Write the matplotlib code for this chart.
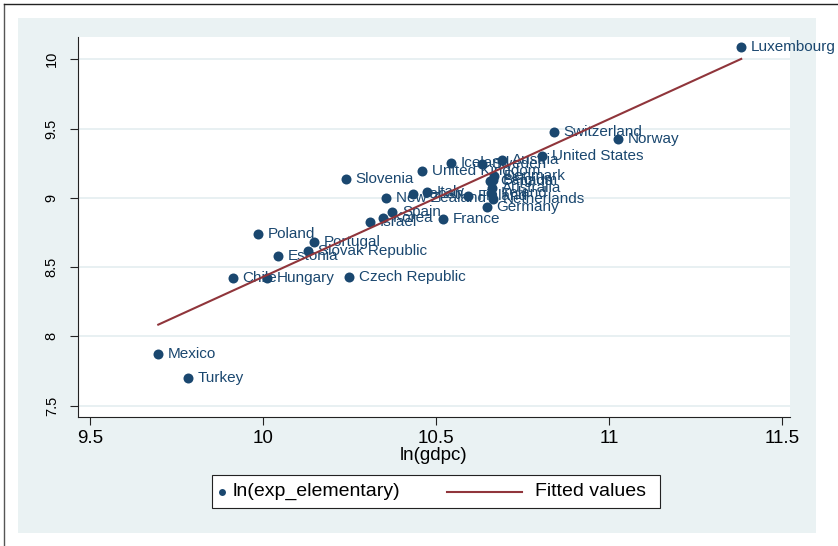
import numpy as np
import matplotlib.pyplot as plt
from matplotlib.lines import Line2D
from matplotlib.patches import Rectangle

plt.rcParams['font.family'] = ['Liberation Sans', 'DejaVu Sans']

countries = ['Luxembourg', 'Switzerland', 'Norway', 'United States', 'Slovenia',
             'United Kingdom', 'Iceland', 'Sweden', 'Austria', 'Denmark',
             'Canada', 'Belgium', 'Australia', 'Ireland', 'Netherlands',
             'Germany', 'Finland', 'Japan', 'Italy', 'New Zealand', 'France',
             'Spain', 'Korea', 'Israel', 'Poland', 'Portugal', 'Slovak Republic',
             'Estonia', 'Chile', 'Hungary', 'Czech Republic', 'Mexico', 'Turkey']
ln_gdpc = [11.382, 10.841, 11.026, 10.806, 10.240,
           10.460, 10.543, 10.633, 10.691, 10.668,
           10.656, 10.665, 10.662, 10.659, 10.665,
           10.647, 10.592, 10.434, 10.474, 10.355, 10.520,
           10.373, 10.347, 10.309, 9.986, 10.147, 10.130,
           10.043, 9.913, 10.012, 10.249, 9.697, 9.783]
ln_exp = [10.089, 9.475, 9.425, 9.302, 9.136,
          9.194, 9.252, 9.245, 9.273, 9.158,
          9.122, 9.129, 9.071, 9.035, 8.991,
          8.933, 9.013, 9.027, 9.042, 8.999, 8.848,
          8.898, 8.855, 8.826, 8.740, 8.682, 8.617,
          8.581, 8.422, 8.422, 8.429, 7.874, 7.701]

xticks = [9.5, 10, 10.5, 11, 11.5]
yticks = [7.5, 8, 8.5, 9, 9.5, 10]

navy = '#1a476f'
maroon = '#90353b'
bg = '#eaf2f3'
W, H = 838, 546

x = np.array(ln_gdpc)
y = np.array(ln_exp)

# linear fit
b, a = np.polyfit(x, y, 1)
xs = np.array([x.min(), x.max()])

fig = plt.figure(figsize=(W / 100, H / 100), dpi=100)
fig.patch.set_facecolor('white')

# graph region + outer frame
fig.add_artist(Rectangle((18 / W, 1 - 533 / H), (816 - 18) / W, (533 - 18) / H,
                         transform=fig.transFigure, facecolor=bg, edgecolor='none', zorder=0))
fig.add_artist(Line2D([3.5 / W, 3.5 / W], [0, 1 - 3.5 / H], transform=fig.transFigure,
                      color='#555555', lw=1))
fig.add_artist(Line2D([3.5 / W, 1], [1 - 3.5 / H, 1 - 3.5 / H], transform=fig.transFigure,
                      color='#222222', lw=1))

ax = fig.add_axes([78 / W, 1 - 417 / H, (790 - 78) / W, (417 - 37) / H])
ax.set_facecolor('white')
ax.set_xlim(9.465, 11.523)
ax.set_ylim(7.418, 10.161)

ax.plot(x, y, 'o', color=navy, markersize=7.2, markeredgewidth=0, zorder=3)
for name, xi, yi in zip(countries, x, y):
    ax.annotate(name, (xi, yi), xytext=(7, 0), textcoords='offset points',
                va='center', ha='left', fontsize=11, color=navy, zorder=4,
                annotation_clip=False)
ax.plot(xs, a + b * xs, color=maroon, lw=1.5, zorder=5)

ax.set_xticks(xticks)
ax.set_xticklabels(['9.5', '10', '10.5', '11', '11.5'])
ax.set_yticks(yticks)
ax.set_yticklabels(['7.5', '8', '8.5', '9', '9.5', '10'])
ax.grid(axis='y', color='#e4eef0', lw=1.2)
ax.set_axisbelow(True)
for s in ['top', 'right']:
    ax.spines[s].set_visible(False)
for s in ['left', 'bottom']:
    ax.spines[s].set_color('#222222')
    ax.spines[s].set_linewidth(0.8)
ax.tick_params(axis='x', direction='out', length=5.8, width=0.8, color='#222222',
               labelsize=13.5, pad=3.5)
ax.tick_params(axis='y', direction='out', length=5.8, width=0.8, color='#222222',
               labelsize=10.5, pad=8, labelrotation=90)
for lbl in ax.get_yticklabels():
    lbl.set_va('center')
ax.set_xlabel('ln(gdpc)', fontsize=13.5, labelpad=0)

# legend box
fig.add_artist(Rectangle((212 / W, 1 - 508 / H), (660 - 212) / W, (508 - 475) / H,
                         transform=fig.transFigure, facecolor='white', edgecolor='#222222',
                         lw=0.8, zorder=5))
ly = 1 - 491.5 / H
fig.add_artist(Line2D([222 / W], [ly], transform=fig.transFigure, marker='o',
                      color=navy, markersize=5, markeredgewidth=0, zorder=6))
fig.text(233 / W, ly, 'ln(exp_elementary)', fontsize=14, va='center', ha='left', zorder=6)
fig.add_artist(Line2D([447 / W, 522 / W], [ly, ly], transform=fig.transFigure,
                      color=maroon, lw=1.5, zorder=6))
fig.text(535 / W, ly, 'Fitted values', fontsize=14, va='center', ha='left', zorder=6)

fig.savefig('out.png', dpi=100)
